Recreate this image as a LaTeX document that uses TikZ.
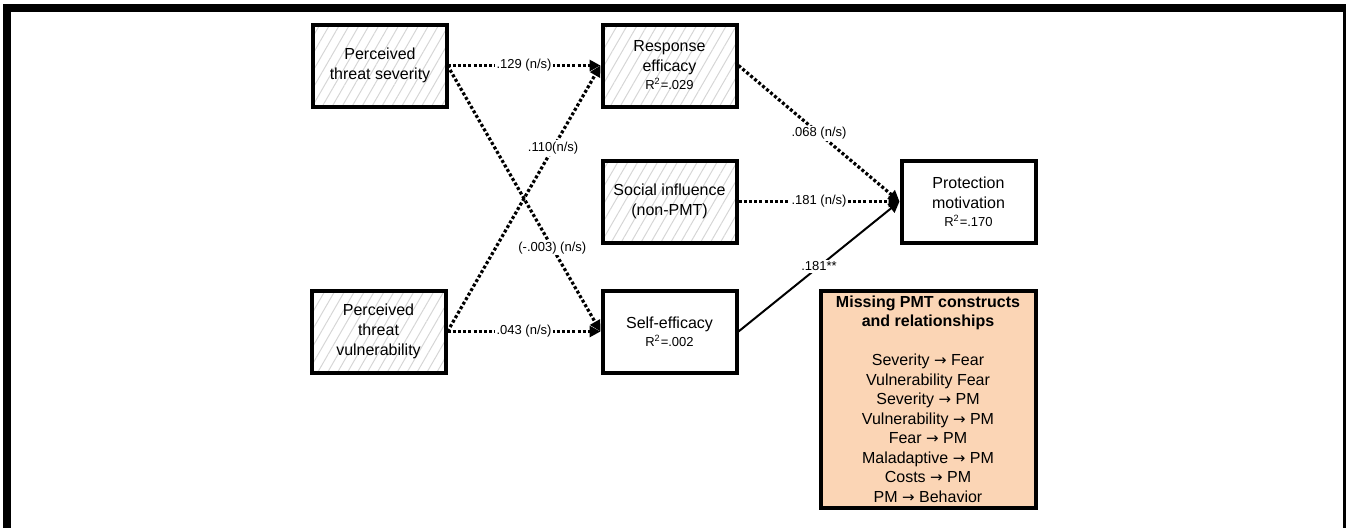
\documentclass[tikz,border=0pt]{standalone}
\usepackage{fontspec}
\setmainfont{Liberation Sans}
\newfontfamily\symfont{DejaVu Sans}
\usepackage{xcolor}
\usepackage{tikz}
\usetikzlibrary{positioning,arrows.meta,patterns.meta}

\definecolor{peach}{RGB}{251,213,181}
\newcommand{\rsq}[1]{{\fontsize{6.5}{8}\selectfont R\textsuperscript{2}=#1}}
\newcommand{\toarrow}{{\symfont\fontsize{7.5}{9.75}\selectfont →}}

\begin{document}
\begin{tikzpicture}[
    x=0.5pt,y=-0.5pt,
    node distance=25pt and 76.5pt,
    construct/.style={rectangle,draw=black,line width=2pt,minimum width=67pt,minimum height=41pt,inner sep=1pt,
        font=\fontsize{8}{10}\selectfont,align=center},
    hatched/.style={pattern={Lines[angle=60,distance=4.3pt,line width=0.5pt]},pattern color=black!16},
    nslink/.style={-{Triangle[length=5.5pt,width=5.5pt]},line width=1.6pt,dash pattern=on 1.5pt off 1.1pt},
    link/.style={-{Triangle[length=5.5pt,width=5.5pt]},line width=1pt},
    coef/.style={fill=white,inner sep=0.8pt,font=\fontsize{6.5}{7.8}\selectfont}
]
\useasboundingbox (0,0) rectangle (1346,527);

% outer frame (open at the bottom)
\draw[line width=4pt,line join=miter] (7,540) -- (7,8) -- (1347,8) -- (1347,540);

\node[construct,hatched] (pts) at (380,65.5) {Perceived\\threat severity};
\node[construct,hatched,right=of pts] (re) {Response\\efficacy\\[-1pt]\rsq{.029}};
\node[construct,hatched,below=of re] (si) {Social influence\\(non-PMT)};
\node[construct,below=22pt of si] (se) {Self-efficacy\\[-1pt]\rsq{.002}};
\node[construct,hatched,left=of se] (ptv) {Perceived\\threat\\vulnerability};
\node[construct,right=80.5pt of si] (pm) {Protection\\motivation\\[-1pt]\rsq{.170}};
\node[construct,fill=peach,minimum width=107.5pt,minimum height=108.5pt,
    font=\fontsize{8}{9.75}\selectfont,below=22pt of pm.south east,anchor=north east] (missing)
    {\textbf{Missing PMT constructs}\\\textbf{and relationships}\\ \\
     Severity \toarrow{} Fear\\Vulnerability Fear\\Severity \toarrow{} PM\\Vulnerability \toarrow{} PM\\
     Fear \toarrow{} PM\\Maladaptive \toarrow{} PM\\Costs \toarrow{} PM\\PM \toarrow{} Behavior};

\draw[nslink] (pts.east) -- node[coef] {.129 (n/s)} (re.west);
\draw[nslink] (pts.east) -- node[coef,pos=0.685] {(-.003) (n/s)} (se.west);
\draw[nslink] (ptv.east) -- node[coef,pos=0.69] {.110(n/s)} (re.west);
\draw[nslink] (ptv.east) -- node[coef] {.043 (n/s)} (se.west);
\draw[nslink] (re.east) -- node[coef] {.068 (n/s)} (pm.west);
\draw[nslink] (si.east) -- node[coef] {.181 (n/s)} (pm.west);
\draw[link] (se.east) -- node[coef] {.181**} (pm.west);

\end{tikzpicture}
\end{document}
